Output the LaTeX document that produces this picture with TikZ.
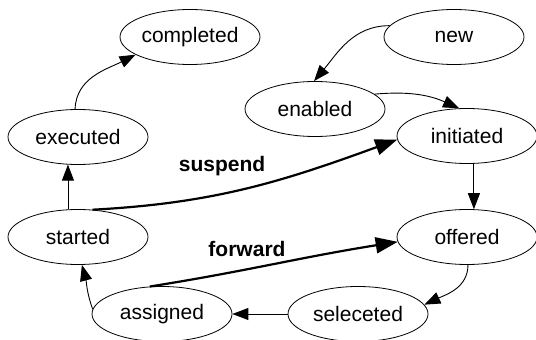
\documentclass[tikz,border=0pt]{standalone}
\usepackage{fontspec}
\setmainfont{Liberation Sans}
\usetikzlibrary{shapes.geometric,arrows.meta}

\begin{document}
\begin{tikzpicture}[x=1pt,y=1pt,
    state/.style={ellipse, draw, line width=0.8pt, minimum width=140pt,
      minimum height=55pt, inner sep=0pt, font=\fontsize{21}{25}\selectfont},
    trans/.style={-{Triangle[length=16pt,width=12pt]}, line width=0.9pt},
    heavy/.style={-{Triangle[length=22pt,width=16pt]}, line width=2.2pt},
    lbl/.style={font=\fontsize{21}{25}\selectfont\bfseries}]
  \useasboundingbox (0,0) rectangle (536,340);
  % states
  \foreach \name/\x/\y in {completed/190/303, new/454/303, enabled/315/231,
      initiated/467/204, executed/78/203, started/78/103, offered/467/103,
      assigned/162/26, seleceted/358/26} {
    \node[state] (\name) at (\x,\y) {\name};
  }
  % transitions
  \draw[trans] (new.170) to[out=180,in=50] (enabled.92);
  \draw[trans] (enabled.14) to[out=5,in=156] (initiated.106);
  \draw[trans] (initiated.-76) -- (offered.76);
  \draw[trans] (offered.-88) to[out=-90,in=25] (seleceted.8);
  \draw[trans] (seleceted.west) -- (assigned.east);
  \draw[trans] (assigned.176) to[out=110,in=-75] (started.-82);
  \draw[trans] (started.110) -- (executed.-110);
  \draw[trans] (executed.96) to[out=88,in=207] (completed.198);
  \draw[heavy] (started.62) to[out=3,in=200] (initiated.183);
  \draw[heavy] (assigned.114) to[out=9,in=189] (offered.184);
  \node[lbl] (suspendlbl) at (222,174) {suspend};
  \node[lbl] (forwardlbl) at (247,91) {forward};
\end{tikzpicture}
\end{document}
